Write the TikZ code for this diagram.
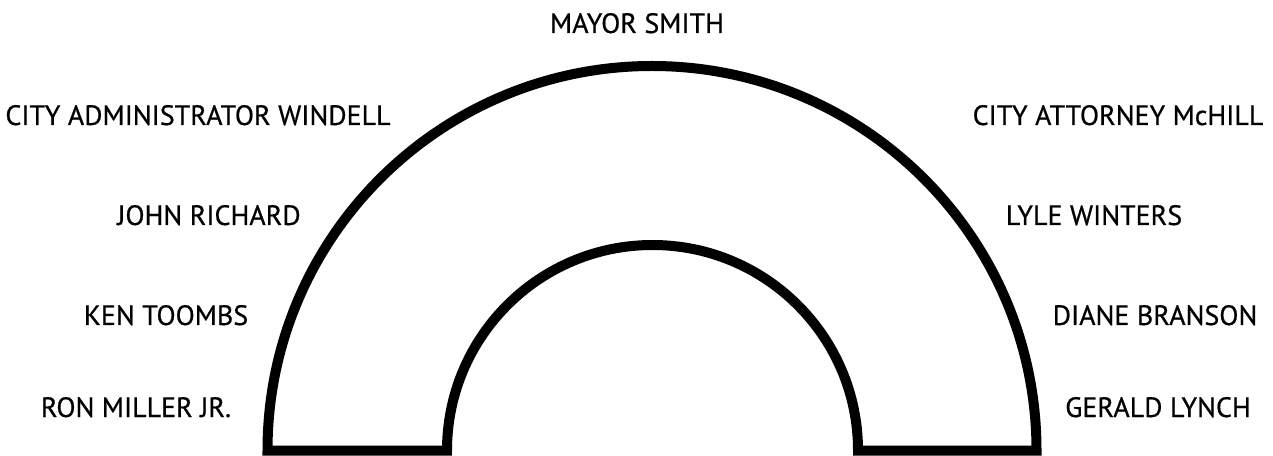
\documentclass[tikz,border=0pt]{standalone}
\usepackage{fontspec}
\setmainfont{PT Sans}[FakeBold=0.6]
\begin{document}
\begin{tikzpicture}[x=1pt,y=1pt,
  lbl/.style={inner sep=0pt,anchor=base,font=\fontsize{28}{30}\selectfont},
  ring/.style={line width=10pt,line join=miter,draw=black,fill=white}]
\useasboundingbox (0,0) rectangle (1273,455);
\fill[white] (0,0) rectangle (1273,455);
\draw[ring] (267.5,4.5) arc[start angle=180,end angle=0,radius=384.5]
  -- (858,4.5) arc[start angle=0,end angle=180,radius=205.5] -- cycle;
\node[lbl] (mayor) at (637,422) {MAYOR SMITH};
\node[lbl] (admin) at (198,330) {CITY ADMINISTRATOR WINDELL};
\node[lbl] (attorney) at (1118,330) {CITY ATTORNEY McHILL};
\node[lbl] (john) at (209,230) {JOHN RICHARD};
\node[lbl] (lyle) at (1094,230) {LYLE WINTERS};
\node[lbl] (ken) at (166,130) {KEN TOOMBS};
\node[lbl] (diane) at (1155,130) {DIANE BRANSON};
\node[lbl] (ron) at (136,38) {RON MILLER JR.};
\node[lbl] (gerald) at (1158,38) {GERALD LYNCH};
\end{tikzpicture}
\end{document}
